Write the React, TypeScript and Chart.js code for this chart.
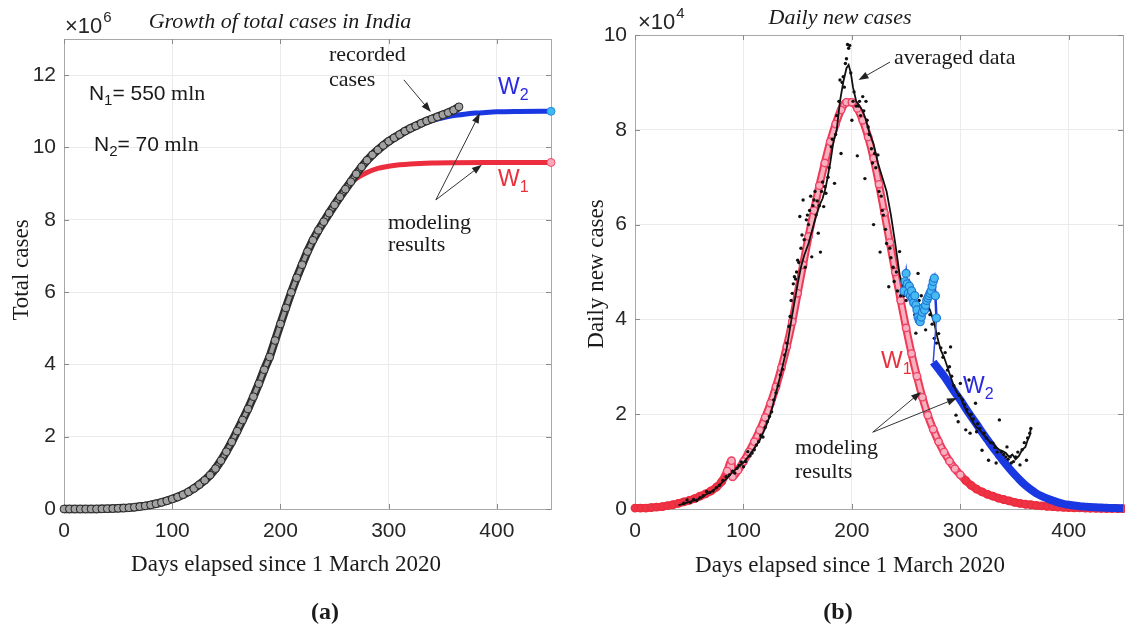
import React, { useEffect, useRef } from "react";
import Chart from "chart.js/auto";

// ---------------- DATA ----------------
// Panel (a): total cases (units of 10^6)
const recordedDays = [0,5,10,15,20,25,30,35,40,45,50,55,60,65,70,75,80,85,90,95,100,105,110,115,120,125,130,135,140,145,150,155,160,165,170,175,180,185,190,195,200,205,210,215,220,225,230,235,240,245,250,255,260,265,270,275,280,285,290,295,300,305,310,315,320,325,330,335,340,345,350,355,360,365];
const recordedTotal = [0,0,0,0,0,0.001,0.001,0.004,0.008,0.012,0.019,0.026,0.035,0.049,0.067,0.086,0.112,0.145,0.182,0.227,0.277,0.332,0.395,0.473,0.567,0.673,0.794,0.936,1.118,1.337,1.584,1.856,2.153,2.461,2.767,3.106,3.464,3.853,4.204,4.66,5.118,5.563,5.993,6.394,6.757,7.121,7.433,7.707,7.946,8.184,8.412,8.636,8.845,9.051,9.267,9.463,9.644,9.797,9.933,10.056,10.169,10.267,10.357,10.45,10.528,10.596,10.668,10.733,10.79,10.847,10.905,10.963,11.03,11.125];

const w1TotalDays = [0,10,20,30,40,50,60,70,80,90,100,110,120,130,140,150,160,170,180,190,200,210,220,230,240,250,260,270,280,290,300,310,320,340,360,400,450];
const w1Total = [0,0.001,0.003,0.006,0.012,0.02,0.035,0.065,0.11,0.18,0.27,0.39,0.56,0.8,1.13,1.6,2.17,2.8,3.5,4.28,5.1,5.92,6.7,7.4,7.98,8.47,8.86,9.14,9.31,9.42,9.48,9.52,9.545,9.57,9.578,9.582,9.585];

const w2TotalDays = [250,260,270,280,290,300,310,320,330,340,350,360,370,380,390,400,420,450];
const w2Total = [8.45,8.86,9.25,9.6,9.9,10.14,10.34,10.51,10.64,10.74,10.82,10.88,10.92,10.95,10.97,10.985,10.995,11.0];

// Panel (b): daily new cases (units of 10^4)
const w1DailyDays = [0,5,10,15,20,25,30,35,40,45,50,55,60,65,70,75,80,85,89,90,95,100,105,110,115,120,125,130,135,140,145,150,155,160,165,170,175,180,185,190,195,200,205,210,215,220,225,230,235,240,245,250,255,260,265,270,275,280,285,290,295,300,305,310,315,320,325,330,335,340,345,350,355,360,365,370,375,380,385,390,395,400,405,410,415,420,425,430,435,440,445,450];
const w1Daily = [0.02,0.02,0.02,0.03,0.04,0.05,0.07,0.09,0.12,0.15,0.18,0.22,0.27,0.32,0.38,0.46,0.58,0.8,1.02,0.68,0.82,1.0,1.2,1.42,1.66,1.93,2.23,2.58,2.98,3.43,3.95,4.55,5.15,5.75,6.3,6.82,7.3,7.75,8.12,8.42,8.58,8.58,8.45,8.2,7.85,7.4,6.85,6.25,5.62,5.0,4.4,3.82,3.28,2.8,2.36,1.98,1.68,1.42,1.2,1.01,0.85,0.72,0.6,0.5,0.42,0.36,0.31,0.27,0.23,0.2,0.17,0.14,0.12,0.1,0.09,0.075,0.065,0.055,0.048,0.04,0.035,0.03,0.026,0.022,0.019,0.016,0.014,0.012,0.01,0.009,0.008,0.007];

const w2DailyDays = [275,280,285,290,295,300,305,310,315,320,325,330,335,340,345,350,355,360,365,370,375,380,385,390,395,400,405,410,415,420,425,430,435,440,445,450];
const w2Daily = [3.1,2.95,2.8,2.63,2.46,2.3,2.12,1.95,1.79,1.62,1.46,1.3,1.15,1.0,0.86,0.73,0.61,0.5,0.41,0.33,0.27,0.22,0.18,0.14,0.11,0.09,0.075,0.06,0.05,0.04,0.035,0.03,0.025,0.02,0.018,0.015];

const w2EarlyDays = [248,249,250,251,252,253,254,255,256,257,258,259,260,261,262,263,264,265,266,267,268,269,270,271,272,273,274,275,276,277,278];
const w2Early = [4.6,4.8,4.97,4.75,4.55,4.7,4.5,4.6,4.45,4.35,4.5,4.3,4.2,4.05,3.98,3.95,4.05,4.15,4.25,4.2,4.3,4.4,4.45,4.5,4.55,4.6,4.7,4.8,4.87,4.5,4.03];

const w2LinkDays = [278, 275];
const w2Link = [4.03, 3.1];

const rawDays = [
  45,48,51,54,57,60,63,66,69,72,
  75,78,81,84,87,90,92,94,96,98,
  100,102,104,106,108,110,112,114,116,118,
  120,122,124,126,128,130,132,134,136,138,
  140,142,143,144,145,146,147,148,149,150,
  151,152,153,154,155,156,157,158,159,160,
  161,162,163,164,165,166,167,168,169,170,
  171,172,173,174,175,176,178,179,181,182,
  184,185,186,188,189,190,191,192,193,194,
  195,196,197,198,199,200,201,202,204,205,
  206,207,208,210,211,212,213,214,215,216,
  218,219,220,221,222,224,225,226,227,228,
  229,231,232,234,235,236,238,239,241,242,
  244,245,246,248,250,252,254,256,258,259,
  260,261,262,264,266,268,270,272,274,276,
  278,280,282,284,286,288,290,291,292,294,
  296,298,299,300,302,304,305,306,308,309,
  310,312,314,315,316,318,320,322,324,326,
  328,330,332,333,334,336,338,340,342,343,
  344,346,347,349,351,353,355,357,359,361,
  362,364,365
];
const rawCases = [
  0.12,0.19,0.14,0.2,0.18,0.24,0.28,0.37,0.35,0.38,
  0.45,0.5,0.6,0.68,0.72,0.8,0.76,0.86,0.92,0.99,
  0.89,1.0,1.21,1.12,1.18,1.25,1.35,1.42,1.55,1.52,
  1.72,1.84,1.95,2.05,2.3,2.45,2.6,2.83,2.95,3.25,
  3.5,3.85,4.06,4.4,4.55,4.75,4.9,4.85,5.0,5.25,
  5.2,6.17,5.5,5.78,6.52,5.68,5.1,6.1,6.2,6.0,
  6.3,6.6,5.32,6.4,6.52,6.7,6.2,6.5,5.82,6.4,
  5.42,6.7,6.9,6.38,6.8,6.66,7.0,7.2,7.64,7.8,
  6.87,7.9,8.3,8.6,9.05,7.5,9.0,9.12,8.9,9.4,
  9.5,9.8,9.72,9.78,9.2,8.2,8.6,8.8,8.5,7.45,
  8.5,8.6,8.3,8.7,8.4,6.97,8.6,8.2,8.06,7.9,
  7.6,7.3,6.0,7.5,7.2,7.47,6.7,5.42,6.6,6.3,
  6.2,5.9,5.6,4.69,5.5,5.3,5.1,4.8,5.0,4.6,
  5.43,4.5,4.6,4.5,4.4,4.66,4.5,4.4,4.1,3.71,
  4.3,4.97,4.4,4.5,4.2,3.78,4.3,4.1,3.9,3.6,
  3.5,3.7,3.4,3.2,3.3,2.93,3.0,3.42,2.8,2.6,
  1.98,1.84,2.4,2.65,2.3,2.2,1.67,2.1,2.72,1.6,
  2.0,1.9,2.23,1.63,1.8,1.7,1.24,1.6,1.5,1.03,
  1.4,1.39,1.3,0.97,1.2,1.88,1.2,1.15,1.1,1.31,
  1.05,1.1,0.97,1.0,1.1,1.2,0.93,1.25,1.4,1.03,
  1.5,1.6,1.7
];

const avgDays = [40,45,50,55,60,65,70,75,80,85,90,95,100,105,110,115,120,125,130,135,140,145,150,153,156,160,163,166,170,173,176,180,183,186,189,192,195,197,199,201,204,207,210,213,216,220,224,228,232,236,240,244,248,252,256,260,264,268,272,276,279,282,285,288,291,294,297,300,303,306,309,312,315,318,321,324,327,330,333,336,339,342,345,348,351,354,357,360,362,364,365];
const avgCases = [0.08,0.11,0.15,0.18,0.22,0.3,0.36,0.44,0.55,0.65,0.78,0.88,0.98,1.12,1.28,1.45,1.7,2.0,2.45,2.9,3.4,4.1,4.75,5.1,5.35,5.6,5.85,6.1,6.4,6.55,6.8,7.3,7.75,8.0,8.6,9.0,9.3,9.37,9.2,8.9,8.6,8.5,8.4,8.2,7.95,7.7,7.3,7.0,6.7,6.2,5.6,4.95,4.6,4.45,4.4,4.25,4.3,4.35,4.2,3.92,3.6,3.35,3.2,3.0,2.79,2.6,2.45,2.37,2.2,2.05,1.95,1.82,1.72,1.67,1.58,1.5,1.42,1.39,1.3,1.25,1.22,1.18,1.1,1.15,1.05,1.12,1.25,1.31,1.45,1.55,1.7];

const xTickStep = 100;
const xMax = 450;
const yMaxA = 13;
const yStepA = 2;
const yMaxB = 10;
const yStepB = 2;

// ---------------- STYLE ----------------
const SANS = '"Liberation Sans", Arial, sans-serif';
const SERIF = '"Liberation Serif", "Times New Roman", serif';
const TXT = "#1a1a1a";
const RED = "#ec2d3d";
const BLUE = "#1a38e2";
const PINK = "#f8b0c0";
const PINK_EDGE = "#ee4468";

const pts = (xs: number[], ys: number[]) => xs.map((x, i) => ({ x, y: ys[i] }));

type Run = { t: string; font: string; dy?: number; color?: string };
function drawRuns(ctx: CanvasRenderingContext2D, x: number, y: number, runs: Run[]) {
  let cx = x;
  ctx.textAlign = "left";
  ctx.textBaseline = "middle";
  for (const r of runs) {
    ctx.font = r.font;
    ctx.fillStyle = r.color || TXT;
    ctx.fillText(r.t, cx, y + (r.dy || 0));
    cx += ctx.measureText(r.t).width;
  }
}

function arrow(ctx: CanvasRenderingContext2D, x1: number, y1: number, x2: number, y2: number) {
  const a = Math.atan2(y2 - y1, x2 - x1);
  const L = 10, W = 3.6;
  const c = Math.cos(a), s = Math.sin(a);
  ctx.save();
  ctx.strokeStyle = "#333";
  ctx.fillStyle = "#222";
  ctx.lineWidth = 1;
  ctx.beginPath();
  ctx.moveTo(x1, y1);
  ctx.lineTo(x2 - c * L * 0.7, y2 - s * L * 0.7);
  ctx.stroke();
  ctx.beginPath();
  ctx.moveTo(x2, y2);
  ctx.lineTo(x2 - L * c + W * s, y2 - L * s - W * c);
  ctx.lineTo(x2 - L * c - W * s, y2 - L * s + W * c);
  ctx.closePath();
  ctx.fill();
  ctx.restore();
}

function drawBox(chart: any) {
  const { ctx, chartArea: ca, scales } = chart;
  ctx.save();
  ctx.strokeStyle = "#a8a8a8";
  ctx.lineWidth = 1;
  ctx.strokeRect(Math.round(ca.left) + 0.5, Math.round(ca.top) + 0.5, Math.round(ca.right - ca.left), Math.round(ca.bottom - ca.top));
  ctx.strokeStyle = "#8a8a8a";
  ctx.beginPath();
  for (const t of scales.x.ticks) {
    const p = Math.round(scales.x.getPixelForValue(t.value)) + 0.5;
    ctx.moveTo(p, ca.bottom); ctx.lineTo(p, ca.bottom - 5);
    ctx.moveTo(p, ca.top); ctx.lineTo(p, ca.top + 5);
  }
  for (const t of scales.y.ticks) {
    const p = Math.round(scales.y.getPixelForValue(t.value)) + 0.5;
    ctx.moveTo(ca.left, p); ctx.lineTo(ca.left + 5, p);
    ctx.moveTo(ca.right, p); ctx.lineTo(ca.right - 5, p);
  }
  ctx.stroke();
  ctx.restore();
}

function text(ctx: CanvasRenderingContext2D, s: string, x: number, y: number, font: string, align: CanvasTextAlign = "center", base: CanvasTextBaseline = "alphabetic") {
  ctx.font = font;
  ctx.fillStyle = TXT;
  ctx.textAlign = align;
  ctx.textBaseline = base;
  ctx.fillText(s, x, y);
}

function scalesFor(yMax: number, yStep: number, yWidth: number) {
  const tickFont = { family: SANS, size: 21 };
  return {
    x: {
      type: "linear",
      min: 0,
      max: xMax,
      ticks: { stepSize: xTickStep, includeBounds: false, padding: 10, font: tickFont, color: "#262626", maxRotation: 0, autoSkip: false },
      grid: { color: "#ebebeb", drawTicks: false, lineWidth: 1 },
      border: { display: false },
      afterFit: (s: any) => { s.height = 121; },
    },
    y: {
      type: "linear",
      min: 0,
      max: yMax,
      ticks: { stepSize: yStep, includeBounds: false, padding: 8, font: tickFont, color: "#262626" },
      grid: { color: "#ebebeb", drawTicks: false, lineWidth: 1 },
      border: { display: false },
      afterFit: (s: any) => { s.width = yWidth; },
    },
  };
}

// ---------------- PANEL A ----------------
const decorA = {
  id: "decorA",
  beforeDatasetsDraw(chart: any) { drawBox(chart); },
  afterDraw(chart: any) {
    const { ctx, scales } = chart;
    const X = (v: number) => scales.x.getPixelForValue(v);
    const Y = (v: number) => scales.y.getPixelForValue(v);
    ctx.save();
    text(ctx, "Growth of total cases in India", 280, 28, `italic 22px ${SERIF}`);
    text(ctx, "Days elapsed since 1 March 2020", 286, 571, `23px ${SERIF}`);
    ctx.save();
    ctx.translate(28, 270);
    ctx.rotate(-Math.PI / 2);
    text(ctx, "Total cases", 0, 0, `23px ${SERIF}`);
    ctx.restore();
    text(ctx, "(a)", 325, 619, `bold 24px ${SERIF}`);
    ctx.fillStyle = "#262626";
    ctx.font = `22px ${SANS}`; ctx.textAlign = "left"; ctx.textBaseline = "alphabetic";
    ctx.fillText("\u00d710", 65, 33);
    const w = ctx.measureText("\u00d710").width;
    ctx.font = `15px ${SANS}`;
    ctx.fillText("6", 65 + w + 1, 22);
    drawRuns(ctx, X(23), Y(11.48), [
      { t: "N", font: `21px ${SANS}` },
      { t: "1", font: `15px ${SANS}`, dy: 7 },
      { t: "= 550", font: `21px ${SANS}` },
      { t: " mln", font: `22px ${SERIF}` },
    ]);
    drawRuns(ctx, X(27.7), Y(10.07), [
      { t: "N", font: `21px ${SANS}` },
      { t: "2", font: `15px ${SANS}`, dy: 7 },
      { t: "= 70", font: `21px ${SANS}` },
      { t: " mln", font: `22px ${SERIF}` },
    ]);
    drawRuns(ctx, X(244.8), Y(12.56), [{ t: "recorded", font: `22px ${SERIF}` }]);
    drawRuns(ctx, X(244.8), Y(11.87), [{ t: "cases", font: `22px ${SERIF}` }]);
    arrow(ctx, X(314), Y(11.87), X(339), Y(10.98));
    drawRuns(ctx, X(401), Y(11.65), [
      { t: "W", font: `23px ${SANS}`, color: "#2a2ae0" },
      { t: "2", font: `16px ${SANS}`, dy: 8, color: "#2a2ae0" },
    ]);
    drawRuns(ctx, X(401), Y(9.11), [
      { t: "W", font: `23px ${SANS}`, color: "#e8303c" },
      { t: "1", font: `16px ${SANS}`, dy: 8, color: "#e8303c" },
    ]);
    drawRuns(ctx, X(299.3), Y(7.91), [{ t: "modeling", font: `22px ${SERIF}` }]);
    drawRuns(ctx, X(299.3), Y(7.3), [{ t: "results", font: `22px ${SERIF}` }]);
    arrow(ctx, X(343.6), Y(8.55), X(384.3), Y(10.95));
    arrow(ctx, X(343.6), Y(8.55), X(386.1), Y(9.52));
    ctx.restore();
  },
};

const configA: any = {
  type: "scatter",
  data: {
    datasets: [
      {
        data: pts(recordedDays, recordedTotal),
        showLine: false,
        pointRadius: 3.9,
        pointBackgroundColor: "#a2a2a2",
        pointBorderColor: "#262626",
        pointBorderWidth: 1,
        order: 0,
        clip: false,
      },
      {
        data: pts(recordedDays, recordedTotal),
        showLine: true,
        borderColor: "#9c9c9c",
        borderWidth: 4,
        pointRadius: 0,
        order: 0.5,
        clip: false,
      },
      {
        data: pts(recordedDays, recordedTotal),
        showLine: true,
        borderColor: "#2e2e2e",
        borderWidth: 8.5,
        pointRadius: 0,
        order: 0.6,
        clip: false,
      },
      {
        data: pts(w2TotalDays, w2Total),
        showLine: true,
        borderColor: BLUE,
        borderWidth: 5,
        cubicInterpolationMode: "monotone",
        pointRadius: (c: any) => (c.dataIndex === w2Total.length - 1 ? 4 : 0),
        pointBackgroundColor: "#3cb8f2",
        pointBorderColor: "#2a8ae0",
        pointBorderWidth: 1,
        order: 1,
        clip: false,
      },
      {
        data: pts(w1TotalDays, w1Total),
        showLine: true,
        borderColor: RED,
        borderWidth: 5,
        cubicInterpolationMode: "monotone",
        pointRadius: (c: any) => (c.dataIndex === w1Total.length - 1 ? 4 : 0),
        pointBackgroundColor: "#f8a8b8",
        pointBorderColor: "#ec4a66",
        pointBorderWidth: 1,
        order: 2,
        clip: false,
      },
    ],
  },
  options: {
    animation: false,
    responsive: true,
    maintainAspectRatio: false,
    events: [],
    layout: { padding: { left: 0, top: 39, right: 29, bottom: 0 } },
    plugins: { legend: { display: false }, tooltip: { enabled: false }, title: { display: false } },
    scales: scalesFor(yMaxA, yStepA, 64),
  },
  plugins: [decorA],
};

// ---------------- PANEL B ----------------
const OFF_B = 575;
const steep = (v: number) => v > 0.6;
const decorB = {
  id: "decorB",
  beforeDatasetsDraw(chart: any) { drawBox(chart); },
  afterDraw(chart: any) {
    const { ctx, scales } = chart;
    const X = (v: number) => scales.x.getPixelForValue(v);
    const Y = (v: number) => scales.y.getPixelForValue(v);
    ctx.save();
    text(ctx, "Daily new cases", 840 - OFF_B, 24, `italic 22px ${SERIF}`);
    text(ctx, "Days elapsed since 1 March 2020", 850 - OFF_B, 572, `23px ${SERIF}`);
    ctx.save();
    ctx.translate(603 - OFF_B, 274);
    ctx.rotate(-Math.PI / 2);
    text(ctx, "Daily new cases", 0, 0, `23px ${SERIF}`);
    ctx.restore();
    text(ctx, "(b)", 838 - OFF_B, 619, `bold 24px ${SERIF}`);
    ctx.fillStyle = "#262626";
    ctx.font = `22px ${SANS}`; ctx.textAlign = "left"; ctx.textBaseline = "alphabetic";
    ctx.fillText("\u00d710", 638 - OFF_B, 29);
    const w = ctx.measureText("\u00d710").width;
    ctx.font = `15px ${SANS}`;
    ctx.fillText("4", 638 - OFF_B + w + 1, 18);
    drawRuns(ctx, X(238.8), Y(9.51), [{ t: "averaged data", font: `22px ${SERIF}` }]);
    arrow(ctx, X(235.2), Y(9.43), X(206.1), Y(9.05));
    drawRuns(ctx, X(226.9), Y(3.11), [
      { t: "W", font: `23px ${SANS}`, color: "#e8303c" },
      { t: "1", font: `16px ${SANS}`, dy: 8, color: "#e8303c" },
    ]);
    drawRuns(ctx, X(302.5), Y(2.58), [
      { t: "W", font: `23px ${SANS}`, color: "#2a2ae0" },
      { t: "2", font: `16px ${SANS}`, dy: 8, color: "#2a2ae0" },
    ]);
    drawRuns(ctx, X(147.5), Y(1.29), [{ t: "modeling", font: `22px ${SERIF}` }]);
    drawRuns(ctx, X(147.5), Y(0.78), [{ t: "results", font: `22px ${SERIF}` }]);
    arrow(ctx, X(219.2), Y(1.62), X(263.7), Y(2.47));
    arrow(ctx, X(219.2), Y(1.62), X(297), Y(2.34));
    ctx.restore();
  },
};

const configB: any = {
  type: "scatter",
  data: {
    datasets: [
      {
        data: pts(w2EarlyDays, w2Early),
        showLine: true,
        borderColor: "#1a3ae0",
        borderWidth: 2.5,
        pointRadius: 4,
        pointBackgroundColor: "#48baf2",
        pointBorderColor: "#1f78d6",
        pointBorderWidth: 1.2,
        order: 0,
        clip: false,
      },
      {
        data: pts(w2LinkDays, w2Link),
        showLine: true,
        borderColor: "#2a4ae6",
        borderWidth: 1.5,
        pointRadius: 0,
        order: 0,
        clip: false,
      },
      {
        data: pts(avgDays, avgCases),
        showLine: true,
        borderColor: "#111",
        borderWidth: 1.8,
        pointRadius: 0,
        order: 1,
        clip: false,
      },
      {
        data: pts(rawDays, rawCases),
        showLine: false,
        pointRadius: 1.7,
        pointBackgroundColor: "#111",
        pointBorderWidth: 0,
        order: 2,
        clip: false,
      },
      {
        data: pts(w2DailyDays, w2Daily),
        showLine: true,
        borderColor: BLUE,
        borderWidth: 8,
        cubicInterpolationMode: "monotone",
        pointRadius: 0,
        order: 3,
        clip: false,
      },
      {
        data: pts(w1DailyDays, w1Daily),
        showLine: false,
        pointRadius: 3.7,
        pointBackgroundColor: (c: any) => (steep(w1Daily[c.dataIndex]) ? PINK : "#ee3346"),
        pointBorderColor: (c: any) => (steep(w1Daily[c.dataIndex]) ? PINK_EDGE : "#ec2d3d"),
        pointBorderWidth: 1.4,
        order: 4,
        clip: false,
      },
      {
        data: pts(w1DailyDays, w1Daily),
        showLine: true,
        borderWidth: 4,
        cubicInterpolationMode: "monotone",
        pointRadius: 0,
        borderColor: "#ee3346",
        segment: {
          borderColor: (c: any) => (steep(c.p0.parsed.y) && steep(c.p1.parsed.y) ? PINK : "#ee3346"),
        },
        order: 4.5,
        clip: false,
      },
      {
        data: pts(w1DailyDays, w1Daily),
        showLine: true,
        borderColor: "#ee3a55",
        borderWidth: 8,
        cubicInterpolationMode: "monotone",
        pointRadius: 0,
        order: 4.6,
        clip: false,
      },
    ],
  },
  options: {
    animation: false,
    responsive: true,
    maintainAspectRatio: false,
    events: [],
    layout: { padding: { left: 0, top: 35, right: 7, bottom: 0 } },
    plugins: { legend: { display: false }, tooltip: { enabled: false }, title: { display: false } },
    scales: scalesFor(yMaxB, yStepB, 60),
  },
  plugins: [decorB],
};

export default function App() {
  const refA = useRef<HTMLCanvasElement>(null);
  const refB = useRef<HTMLCanvasElement>(null);
  useEffect(() => {
    const a = new Chart(refA.current as HTMLCanvasElement, configA);
    const b = new Chart(refB.current as HTMLCanvasElement, configB);
    return () => {
      a.destroy();
      b.destroy();
    };
  }, []);
  return (
    <div style={{ position: "fixed", left: 0, top: 0, width: 1125, height: 630, overflow: "hidden", background: "#fff" }}>
      <div style={{ position: "absolute", left: 0, top: 0, width: 580, height: 630 }}>
        <canvas ref={refA} />
      </div>
      <div style={{ position: "absolute", left: OFF_B, top: 0, width: 555, height: 630 }}>
        <canvas ref={refB} />
      </div>
    </div>
  );
}
